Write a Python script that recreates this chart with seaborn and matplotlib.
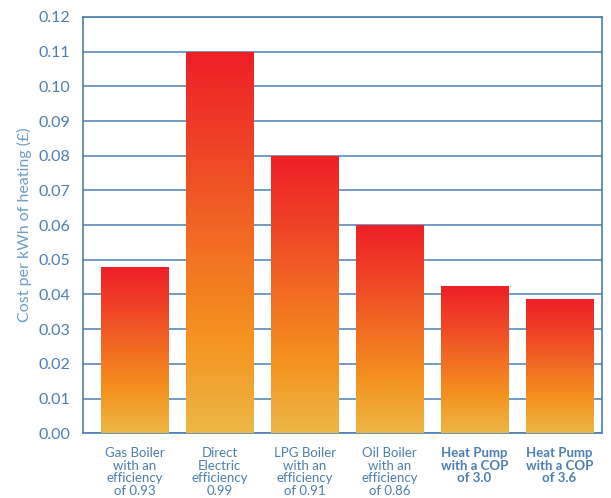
import numpy as np
import pandas as pd
import seaborn as sns
import matplotlib.pyplot as plt
from matplotlib.colors import LinearSegmentedColormap

categories = ["Gas Boiler\nwith an\nefficiency\nof 0.93",
              "Direct\nElectric\nefficiency\n0.99",
              "LPG Boiler\nwith an\nefficiency\nof 0.91",
              "Oil Boiler\nwith an\nefficiency\nof 0.86",
              "Heat Pump\nwith a COP\nof 3.0",
              "Heat Pump\nwith a COP\nof 3.6"]
costs = [0.048, 0.110, 0.080, 0.060, 0.0424, 0.0386]
bold_labels = [False, False, False, False, True, True]

blue = "#4b7fb1"
sns.set_theme(style="white")
plt.rcParams['font.family'] = ['Lato', 'DejaVu Sans']

df = pd.DataFrame({"system": categories, "cost": costs})

fig, ax = plt.subplots(figsize=(6.11, 4.98), dpi=100)
fig.subplots_adjust(left=0.136, right=0.985, top=0.966, bottom=0.13)

sns.barplot(data=df, x="system", y="cost", ax=ax, width=0.79,
            color="white", zorder=2)

# vertical gradient, yellow at the bottom to red at the top of each bar
cmap = LinearSegmentedColormap.from_list(
    "heat", [(0.0, "#ecb746"), (0.25, "#f5931f"), (0.5, "#f26c23"),
             (0.75, "#ef4326"), (1.0, "#ee1f27")])
grad = np.linspace(0, 1, 256).reshape(-1, 1)
for p in ax.patches:
    x0, y0 = p.get_x(), p.get_y()
    w, h = p.get_width(), p.get_height()
    im = ax.imshow(grad, cmap=cmap, origin="lower", aspect="auto",
                   extent=[x0, x0 + w, y0, y0 + h], zorder=3)
    im.set_clip_path(p)
    p.set_edgecolor("none")

ax.set_xlim(-0.61, 5.5)
ax.set_ylim(0, 0.12)
ax.set_yticks(np.arange(0, 0.121, 0.01))
ax.set_yticklabels([f"{v:.2f}" for v in np.arange(0, 0.121, 0.01)])
ax.yaxis.grid(True, color=blue, linewidth=1.1, zorder=0)
ax.set_axisbelow(True)
for s in ax.spines.values():
    s.set_color(blue)
    s.set_linewidth(1.2)
    s.set_visible(True)

ax.tick_params(axis="y", length=0, pad=9, labelsize=11.5, labelcolor=blue)
ax.tick_params(axis="x", length=0, pad=10, labelsize=9.5, labelcolor=blue)
for lbl, b in zip(ax.get_xticklabels(), bold_labels):
    lbl.set_linespacing(1.05)
    if b:
        lbl.set_fontweight("bold")
ax.set_xlabel("")
ax.set_ylabel("Cost per kWh of heating (£)", color="#6d9ec8", fontsize=11.5,
              labelpad=5)

fig.savefig("out.png", dpi=100)
